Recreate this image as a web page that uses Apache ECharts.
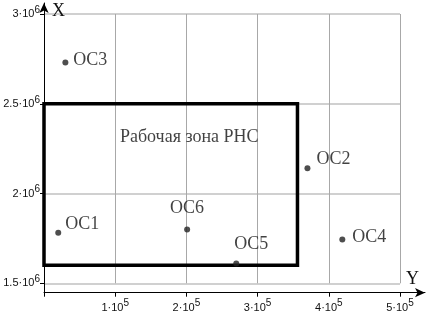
<!DOCTYPE html>
<html><head><meta charset="utf-8">
<script src="https://cdn.jsdelivr.net/npm/echarts@6/dist/echarts.min.js"></script>
<style>html,body{margin:0;padding:0;background:#fff}#c{width:426px;height:318px}</style>
</head><body><div id="c"></div>
<script>
// ---- data ----
const pointNames = ['OC1', 'OC2', 'OC3', 'OC4', 'OC5', 'OC6'];
const pointY = [0.20e5, 3.70e5, 0.30e5, 4.19e5, 2.70e5, 2.01e5];      // horizontal axis "Y"
const pointX = [1.781e6, 2.141e6, 2.73e6, 1.744e6, 1.610e6, 1.800e6]; // vertical axis "X"
const zoneY = [0, 3.56e5];
const zoneX = [1.6e6, 2.5e6];
const zoneName = 'Рабочая зона РНС';
const zoneLabelAt = [2.04e5, 2.315e6];
const yTickValues = [1.5e6, 2e6, 2.5e6, 3e6];
const yTickMantissa = ['1.5·10', '2·10', '2.5·10', '3·10'];
const yTickExp = ['6', '6', '6', '6'];
const xTickValues = [1e5, 2e5, 3e5, 4e5, 5e5];
const xTickMantissa = ['1·10', '2·10', '3·10', '4·10', '5·10'];
const xTickExp = ['5', '5', '5', '5', '5'];
const axisNameH = 'Y';
const axisNameV = 'X';

// ---- styles (label placement relative to dot, px) ----
const labelOffsets = {
  OC1: [7, -9], OC2: [9, -9], OC3: [8, -2], OC4: [10, -2], OC5: [-2, -19], OC6: [-17, -21]
};
const serif = '"Liberation Serif", "DejaVu Serif", serif';
const sans = '"Liberation Sans", Arial, sans-serif';

function tickFmt(values, mant, exp) {
  return function (v) {
    const i = values.findIndex(t => Math.abs(t - v) < 1);
    if (i < 0) return '';
    return '{b|' + mant[i] + '}{s|' + exp[i] + '}';
  };
}
const tickRich = {
  b: { fontSize: 11, fontFamily: sans, color: '#111', lineHeight: 18 },
  s: { fontSize: 10, fontFamily: sans, color: '#111', lineHeight: 10, verticalAlign: 'top' }
};

const chart = echarts.init(document.getElementById('c'), null, { renderer: 'canvas' });
chart.setOption({
  animation: false,
  backgroundColor: '#fff',
  grid: [
    { left: 44, right: 26, top: 14, bottom: 34.7 },
    { left: 44, right: 1, top: 3, bottom: 25.3 }
  ],
  xAxis: [
    {
      gridIndex: 0, type: 'value', min: 0, max: 5e5, interval: 1e5, offset: 9.4,
      axisLine: { show: false },
      axisTick: { show: true, length: 4, lineStyle: { color: '#000' } },
      axisLabel: { formatter: tickFmt(xTickValues, xTickMantissa, xTickExp), rich: tickRich, margin: 6 },
      splitLine: { show: true, lineStyle: { color: '#a8a8a8', width: 1 } }
    },
    {
      gridIndex: 1, type: 'value', min: 0, max: 1,
      name: axisNameH, nameLocation: 'end', nameGap: -6,
      nameTextStyle: { fontFamily: serif, fontSize: 18, color: '#111', align: 'right', verticalAlign: 'bottom', padding: [0, 0, 4, 0] },
      axisLine: { show: true, symbol: ['none', 'arrow'], symbolSize: [7, 10], lineStyle: { color: '#000', width: 1 } },
      axisTick: { show: false }, axisLabel: { show: false }, splitLine: { show: false }
    }
  ],
  yAxis: [
    {
      gridIndex: 0, type: 'value', min: 1.5e6, max: 3e6, interval: 5e5,
      axisLine: { show: false },
      axisTick: { show: true, length: 4, lineStyle: { color: '#000' } },
      axisLabel: { formatter: tickFmt(yTickValues, yTickMantissa, yTickExp), rich: tickRich, margin: 4 },
      splitLine: { show: true, lineStyle: { color: '#d0d0d0', width: 2 } }
    },
    {
      gridIndex: 1, type: 'value', min: 0, max: 1,
      name: axisNameV, nameLocation: 'end', nameGap: -8,
      nameTextStyle: { fontFamily: serif, fontSize: 18, color: '#111', align: 'left', verticalAlign: 'middle', padding: [0, 0, 0, 8] },
      axisLine: { show: true, symbol: ['none', 'arrow'], symbolSize: [7, 10], lineStyle: { color: '#000', width: 1 } },
      axisTick: { show: false }, axisLabel: { show: false }, splitLine: { show: false }
    }
  ],
  series: [
    {
      type: 'scatter', xAxisIndex: 0, yAxisIndex: 0,
      symbol: 'circle', symbolSize: 6,
      itemStyle: { color: '#222' },
      data: pointNames.map((n, i) => ({
        name: n, value: [pointY[i], pointX[i]],
        label: {
          show: true, formatter: n, position: 'inside', align: 'left', verticalAlign: 'middle',
          offset: labelOffsets[n], fontFamily: serif, fontSize: 18, color: '#111'
        }
      })),
      markArea: {
        silent: true,
        itemStyle: { color: 'rgba(0,0,0,0)', borderColor: '#000', borderWidth: 3.5 },
        label: { show: false },
        data: [[{ coord: [zoneY[0], zoneX[1]] }, { coord: [zoneY[1], zoneX[0]] }]]
      },
      z: 3
    },
    {
      type: 'scatter', xAxisIndex: 0, yAxisIndex: 0,
      symbolSize: 0, silent: true,
      data: [{ name: zoneName, value: zoneLabelAt }],
      label: { show: true, formatter: zoneName, position: 'inside', fontFamily: serif, fontSize: 18, color: '#111' }
    }
  ]
});
</script></body></html>
